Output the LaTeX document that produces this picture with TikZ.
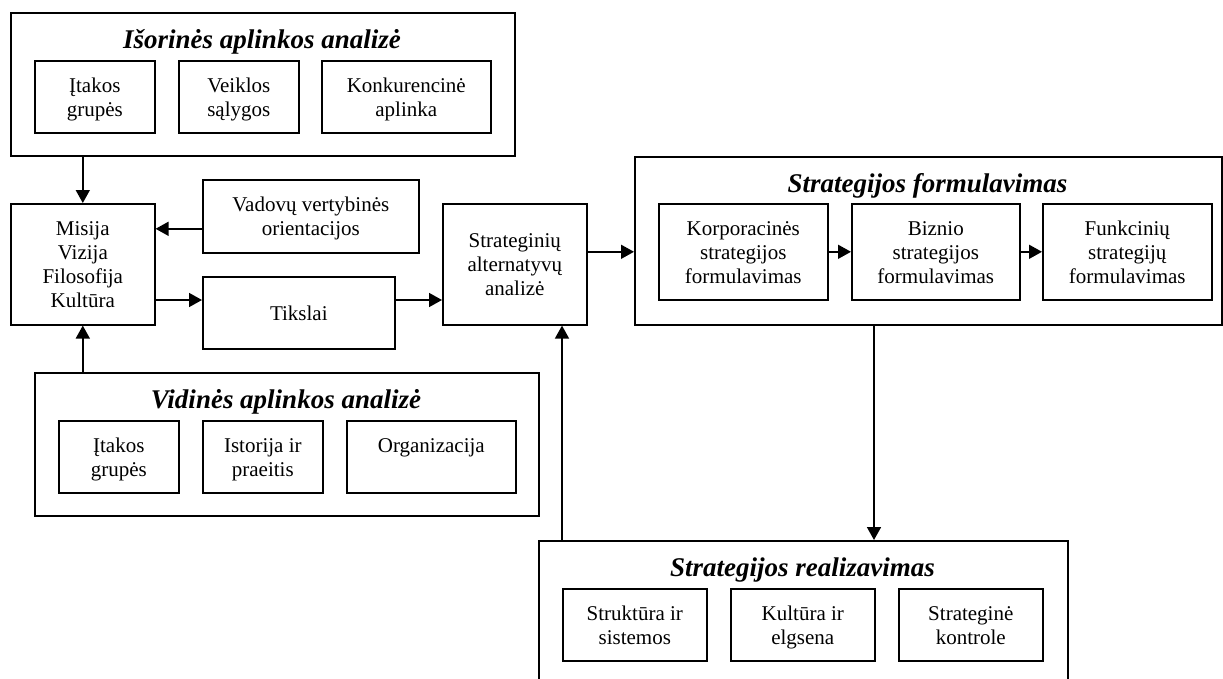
\documentclass[tikz,border=0pt]{standalone}
\usepackage{fontspec}
\setmainfont{Liberation Serif}
\usetikzlibrary{arrows.meta,calc}
\newcommand\bodyfont{\fontsize{21}{24}\selectfont}
\newcommand\headfont{\fontsize{27}{32}\selectfont\bfseries\itshape}
% struts that fix the first line's height and the last line's depth
\newcommand\firststrut{\rule{0pt}{22pt}}
\newcommand\laststrut{\rule[-7pt]{0pt}{7pt}}
\newcommand\tx[1]{\firststrut#1\laststrut}
\tikzset{
  box/.style={draw, line width=1.6pt, anchor=north west, inner sep=0pt, align=center, font=\bodyfont},
  frame/.style={draw, line width=1.6pt, anchor=north west, inner sep=0pt},
  heading/.style={anchor=base, font=\headfont},
  arr/.style={line width=1.6pt, -{Triangle[length=13pt,width=14pt]}},
}
\begin{document}
\begin{tikzpicture}[x=1pt, y=-1pt]
\useasboundingbox (0,0) rectangle (1223,678);
\clip (0,0) rectangle (1223,678);

% External environment analysis
\node[frame, minimum width=504pt, minimum height=143pt] (A) at (10,12) {};
\node[heading] (Ah) at (262,48) {Išorinės aplinkos analizė};
\node[box, minimum width=120pt, minimum height=72pt] (A1) at (34,60) {\tx{Įtakos\\grupės}};
\node[box, minimum width=120pt, minimum height=72pt] (A2) at (178,60) {\tx{Veiklos\\sąlygos}};
\node[box, minimum width=169pt, minimum height=72pt] (A3) at (321,60) {\tx{Konkurencinė\\aplinka}};

% Mission block and its neighbours
\node[box, minimum width=144pt, minimum height=121pt] (M) at (10,203) {\tx{Misija\\Vizija\\Filosofija\\Kultūra}};
\node[box, minimum width=216pt, minimum height=73pt] (Vad) at (202,179) {\tx{Vadovų vertybinės\\orientacijos}};
\node[box, minimum width=192pt, minimum height=72pt] (Tik) at (202,276) {\tx{Tikslai}};
\node[box, minimum width=144pt, minimum height=121pt] (S) at (442,203) {\tx{Strateginių\\alternatyvų\\analizė}};

% Internal environment analysis
\node[frame, minimum width=504pt, minimum height=143pt] (V) at (34,372) {};
\node[heading] (Vh) at (286,408) {Vidinės aplinkos analizė};
\node[box, minimum width=120pt, minimum height=72pt] (V1) at (58,420) {\tx{Įtakos\\grupės}};
\node[box, minimum width=120pt, minimum height=72pt] (V2) at (202,420) {\tx{Istorija ir\\praeitis}};
\node[box, minimum width=169pt, minimum height=72pt] (V3) at (346,420) {\tx{Organizacija\\\mbox{}}};

% Strategy formulation
\node[frame, minimum width=587pt, minimum height=168pt] (F) at (634,156) {};
\node[heading] (Fh) at (927.5,192) {Strategijos formulavimas};
\node[box, minimum width=169pt, minimum height=96pt] (F1) at (658,203) {\tx{Korporacinės\\strategijos\\formulavimas}};
\node[box, minimum width=168pt, minimum height=96pt] (F2) at (851,203) {\tx{Biznio\\strategijos\\formulavimas}};
\node[box, minimum width=169pt, minimum height=96pt] (F3) at (1042,203) {\tx{Funkcinių\\strategijų\\formulavimas}};

% Strategy implementation
\node[frame, minimum width=529pt, minimum height=160pt] (R) at (538,540) {};
\node[heading] (Rh) at (802.5,576) {Strategijos realizavimas};
\node[box, minimum width=144pt, minimum height=72pt] (R1) at (562,588) {\tx{Struktūra ir\\sistemos}};
\node[box, minimum width=144pt, minimum height=72pt] (R2) at (730,588) {\tx{Kultūra ir\\elgsena}};
\node[box, minimum width=144pt, minimum height=72pt] (R3) at (898,588) {\tx{Strateginė\\kontrole}};

% Connectors
\coordinate (va) at ($(Vad.west)+(0,12.5)$);
\coordinate (ty) at (0,300);
\coordinate (dx) at (874,0);
\coordinate (ux) at (562,0);
\draw[arr] (A.south -| M.north) -- (M.north);
\draw[arr] (V.north -| M.south) -- (M.south);
\draw[arr] (va) -- (va -| M.east);
\draw[arr] (M.east |- ty) -- (Tik.west |- ty);
\draw[arr] (Tik.east |- ty) -- (S.west |- ty);
\draw[arr] (S.east |- F1.west) -- (F.west |- F1.west);
\draw[arr] (F1.east) -- (F2.west);
\draw[arr] (F2.east) -- (F3.west);
\draw[arr] (F.south -| dx) -- (R.north -| dx);
\draw[arr] (R.north -| ux) -- (S.south -| ux);
\end{tikzpicture}
\end{document}
